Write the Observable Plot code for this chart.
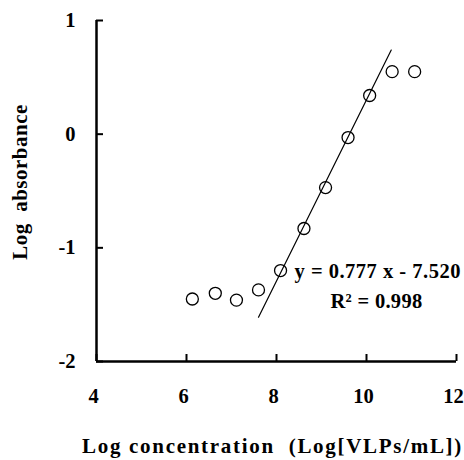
<!DOCTYPE html>
<html><head><meta charset="utf-8">
<script src="https://cdn.jsdelivr.net/npm/d3@7"></script>
<script src="https://cdn.jsdelivr.net/npm/@observablehq/plot@0.6"></script>
<style>
body{margin:0;background:#fff}
</style>
</head><body><div id="chart"></div>
<script>
const logConc = [6.13, 6.64, 7.11, 7.60, 8.09, 8.61, 9.09, 9.59, 10.07, 10.57, 11.07];
const logAbs  = [-1.45, -1.40, -1.46, -1.37, -1.20, -0.83, -0.47, -0.03, 0.34, 0.55, 0.55];
const fitX = [7.6, 10.55];
const fitY = [-1.61, 0.74];
const xTicks = [4, 6, 8, 10, 12];
const yTicks = [-2, -1, 0, 1];
const xTitle = "Log concentration\u00a0 (Log[VLPs/mL])";
const yTitle = "Log\u00a0 absorbance";
const equation = ["y = 0.777 x - 7.520"];
const rSquared = ["R\u00b2 = 0.998"];

const points = logConc.map((x, i) => ({x, y: logAbs[i]}));
const fit = fitX.map((x, i) => ({x, y: fitY[i]}));
const serif = "Liberation Serif";

const svg = Plot.plot({
  width: 464,
  height: 460,
  marginLeft: 96,
  marginRight: 8,
  marginTop: 20,
  marginBottom: 99,
  style: "font-family: 'Liberation Serif', serif; font-size: 20px; font-weight: bold; background: #fff; color: #000;",
  x: {domain: [4, 12]},
  y: {domain: [-2, 1]},
  marks: [
    Plot.ruleX([4], {stroke: "#000", strokeWidth: 2.5}),
    Plot.ruleY([-2], {stroke: "#000", strokeWidth: 2.5}),
    Plot.axisX(xTicks, {tickSize: -7, strokeWidth: 2, text: null, label: null}),
    Plot.axisX(xTicks, {tickSize: 0, tickPadding: 27, dx: -3, label: null, fontSize: 20.5, fontFamily: serif, fontWeight: "bold"}),
    Plot.axisY(yTicks, {tickSize: -7, strokeWidth: 2, text: null, label: null}),
    Plot.axisY(yTicks, {tickSize: 0, tickPadding: 21, label: null, fontSize: 20.5, fontFamily: serif, fontWeight: "bold", tickFormat: d => d < 0 ? "-" + Math.abs(d) : String(d)}),
    Plot.line(fit, {x: "x", y: "y", stroke: "#000", strokeWidth: 1.2}),
    Plot.dot(points, {x: "x", y: "y", r: 6, stroke: "#000", strokeWidth: 1.3, fill: "none"}),
    Plot.text(equation, {text: d => d, frameAnchor: "top-left", textAnchor: "start", lineAnchor: "middle", dx: 198, dy: 251, fontSize: 20.5, fontFamily: serif, fontWeight: "bold"}),
    Plot.text(rSquared, {text: d => d, frameAnchor: "top-left", textAnchor: "start", lineAnchor: "middle", dx: 234, dy: 281, fontSize: 20.5, fontFamily: serif, fontWeight: "bold"}),
    Plot.text([xTitle], {text: d => d, frameAnchor: "bottom", textAnchor: "middle", lineAnchor: "middle", dx: -4, dy: 85, fontSize: 21, fontFamily: serif, fontWeight: "bold"}),
    Plot.text([yTitle], {text: d => d, frameAnchor: "left", textAnchor: "middle", rotate: -90, lineAnchor: "middle", dx: -76, dy: -9, fontSize: 21, fontFamily: serif, fontWeight: "bold"})
  ]
});
const spacing = new Map([[xTitle, "1.7px"], [yTitle, "0.5px"], [equation[0], "0.5px"], [rSquared[0], "0.3px"]]);
d3.select(svg).selectAll("text").each(function() {
  const s = spacing.get(this.textContent);
  if (s) this.style.letterSpacing = s;
});
document.getElementById("chart").appendChild(svg);
</script>
</body></html>
